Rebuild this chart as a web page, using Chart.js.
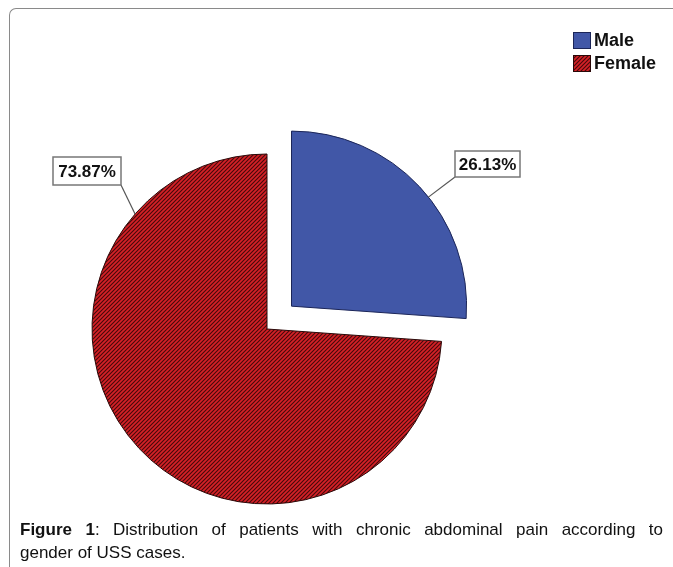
<!DOCTYPE html>
<html>
<head>
<meta charset="utf-8">
<script src="https://cdn.jsdelivr.net/npm/chart.js@4/dist/chart.umd.min.js"></script>
<style>
  html, body { margin: 0; padding: 0; background: #fff; }
  body { width: 673px; height: 567px; position: relative; overflow: hidden; font-family: "Liberation Sans", Arial, sans-serif; }
  #frame { position: absolute; left: 9px; top: 8px; width: 700px; height: 600px; border-top: 1.5px solid #8a8a8a; border-left: 1.5px solid #8a8a8a; border-top-left-radius: 7px; }
  #wrap { position: absolute; left: 0; top: 0; width: 673px; height: 567px; }
  #caption { position: absolute; left: 20px; top: 518px; width: 643px; font-size: 17px; line-height: 23px; color: #111; }
  .l1 { text-align: justify; text-align-last: justify; }
</style>
</head>
<body>
<div id="frame"></div>
<div id="wrap"><canvas id="c" width="673" height="567"></canvas></div>
<div id="caption">
  <div class="l1"><b>Figure 1</b>: Distribution of patients with chronic abdominal pain according to</div>
  <div>gender of USS cases.</div>
</div>
<script>
// ---- data ----
const categories = ['Male', 'Female'];
const percentValues = [26.13, 73.87];
const percentLabels = ['26.13%', '73.87%'];

// ---- styles ----
function hatch() {
  const t = document.createElement('canvas');
  t.width = 4; t.height = 4;
  const g = t.getContext('2d');
  g.fillStyle = '#d62127';
  g.fillRect(0, 0, 4, 4);
  g.strokeStyle = '#460a0b';
  g.lineWidth = 1.15;
  g.beginPath();
  g.moveTo(-1, 5); g.lineTo(5, -1);
  g.moveTo(-1, 1); g.lineTo(1, -1);
  g.moveTo(3, 5); g.lineTo(5, 3);
  g.stroke();
  return g.createPattern(t, 'repeat');
}
const ctx = document.getElementById('c').getContext('2d');
const femalePattern = hatch();
const fills = ['#4157a7', femalePattern];
const borders = ['#1b2558', '#2a0808'];
// where each leader line touches its slice (fraction along the slice's angle) and its label box
const labelLayout = [
  { frac: 0.547, box: { x: 455, y: 151, w: 65, h: 26 }, corner: 'bl' },
  { frac: 0.816, box: { x: 53, y: 157, w: 68, h: 28 }, corner: 'br' }
];

const annotate = {
  id: 'annotate',
  afterDatasetsDraw(chart) {
    const c = chart.ctx;
    const meta = chart.getDatasetMeta(0);
    c.save();
    meta.data.forEach((arc, i) => {
      const p = arc.getProps(['x', 'y', 'startAngle', 'endAngle', 'outerRadius'], true);
      const off = (arc.options.offset || 0) / 4;
      const mid = (p.startAngle + p.endAngle) / 2;
      const cx = p.x + Math.cos(mid) * off, cy = p.y + Math.sin(mid) * off;
      const L = labelLayout[i];
      const a = p.startAngle + (p.endAngle - p.startAngle) * L.frac;
      const ax = cx + Math.cos(a) * p.outerRadius, ay = cy + Math.sin(a) * p.outerRadius;
      const b = L.box;
      const bx = L.corner === 'bl' ? b.x : b.x + b.w;
      const by = b.y + b.h;
      c.strokeStyle = '#555';
      c.lineWidth = 1.2;
      c.beginPath(); c.moveTo(bx, by); c.lineTo(ax, ay); c.stroke();
      c.fillStyle = '#fff';
      c.fillRect(b.x, b.y, b.w, b.h);
      c.strokeStyle = '#777';
      c.lineWidth = 1.5;
      c.strokeRect(b.x, b.y, b.w, b.h);
      c.fillStyle = '#111';
      c.font = 'bold 17px "Liberation Sans", Arial, sans-serif';
      c.textAlign = 'center'; c.textBaseline = 'middle';
      c.fillText(percentLabels[i], b.x + b.w / 2, b.y + b.h / 2 + 1);
    });
    // legend
    const lx = 573, ly = [32, 55];
    categories.forEach((name, i) => {
      c.fillStyle = fills[i];
      c.fillRect(lx, ly[i], 18, 17);
      c.strokeStyle = borders[i];
      c.lineWidth = 1;
      c.strokeRect(lx + 0.5, ly[i] + 0.5, 17, 16);
      c.fillStyle = '#111';
      c.font = 'bold 18px "Liberation Sans", Arial, sans-serif';
      c.textAlign = 'left'; c.textBaseline = 'middle';
      c.fillText(name, lx + 21, ly[i] + 9);
    });
    c.restore();
  }
};

new Chart(ctx, {
  type: 'pie',
  data: {
    labels: categories,
    datasets: [{
      data: percentValues,
      backgroundColor: fills,
      borderColor: borders,
      borderWidth: 1,
      offset: [134, 0],
      hoverOffset: 0
    }]
  },
  options: {
    responsive: false,
    animation: false,
    events: [],
    radius: 175,
    layout: { padding: { left: 67, right: 206, top: 129, bottom: 38 } },
    plugins: { legend: { display: false }, tooltip: { enabled: false } }
  },
  plugins: [annotate]
});
</script>
</body>
</html>
